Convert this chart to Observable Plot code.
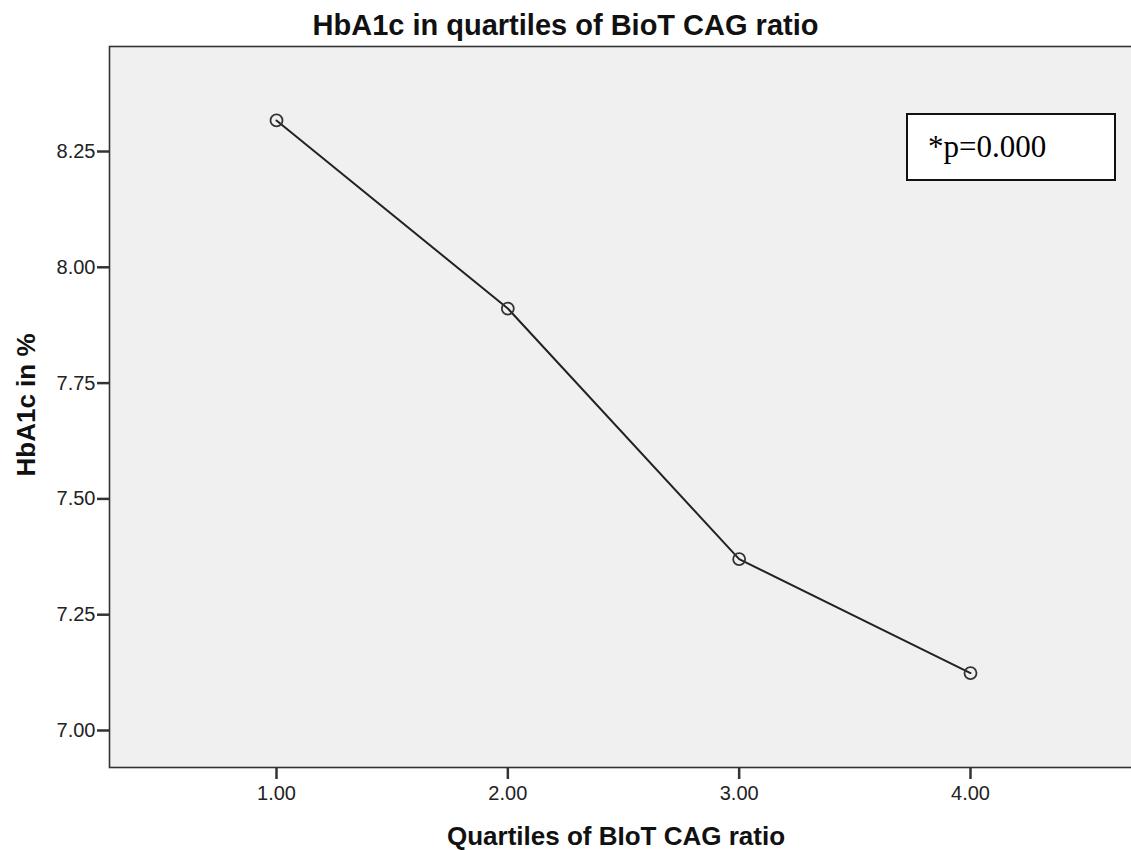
<!DOCTYPE html>
<html><head><meta charset="utf-8">
<script src="https://cdn.jsdelivr.net/npm/d3@7"></script>
<script src="https://cdn.jsdelivr.net/npm/@observablehq/plot@0.6"></script>
<style>
html,body{margin:0;padding:0;background:#fff;overflow:hidden;}
#wrap{position:relative;width:1131px;height:850px;overflow:hidden;font-family:"Liberation Sans",Arial,sans-serif;}
#chart{position:absolute;left:0;top:0;width:1160px;}
#chart svg{max-width:none !important;}
.title{position:absolute;left:0;top:11px;width:1131px;text-align:center;font-size:29px;line-height:29px;font-weight:bold;color:#111;}
.xlab{position:absolute;left:316px;top:823px;width:600px;text-align:center;font-size:26px;line-height:26px;font-weight:bold;color:#111;}
.ylab{position:absolute;left:-174px;top:392px;width:400px;height:26px;text-align:center;font-size:26px;line-height:26px;font-weight:bold;color:#111;transform:rotate(-90deg);}
.note{position:absolute;left:906px;top:113px;width:186px;height:64px;border:2px solid #111;background:#fff;font-family:"Liberation Serif","Times New Roman",serif;font-size:31px;line-height:64px;color:#000;padding-left:20px;box-sizing:content-box;}
</style></head><body>
<div id="wrap">
<div id="chart"></div>
<div class="title">HbA1c in quartiles of BioT CAG ratio</div>
<div class="xlab">Quartiles of BIoT CAG ratio</div>
<div class="ylab">HbA1c in %</div>
<div class="note">*p=0.000</div>
</div>
<script>
// Data
const quartiles = [1, 2, 3, 4];
const hba1c = [8.317, 7.911, 7.370, 7.124];
const xTicks = [1, 2, 3, 4];
const yTicks = [7.00, 7.25, 7.50, 7.75, 8.00, 8.25];
const noteText = "*p=0.000";

const data = quartiles.map((q, i) => ({q, v: hba1c[i]}));
const fmt = d3.format(".2f");

const chart = Plot.plot({
  width: 1160,
  height: 850,
  marginLeft: 109,
  marginRight: 10,
  marginTop: 46,
  marginBottom: 83,
  style: {fontFamily: "'Liberation Sans', Arial, sans-serif", color: "#222", background: "transparent", maxWidth: "none"},
  x: {domain: [0.2781, 4.7781]},
  y: {domain: [6.9201, 8.4767]},
  marks: [
    Plot.frame({fill: "#f0f0f0", stroke: null}),
    Plot.axisY({ticks: yTicks, tickSize: 12, tickPadding: 2, tickFormat: fmt, fontSize: 20, label: null, strokeWidth: 2.5, stroke: "#333"}),
    Plot.axisX({ticks: xTicks, tickSize: 12, tickPadding: 6, tickFormat: fmt, fontSize: 20, label: null, strokeWidth: 2.5, stroke: "#333"}),
    Plot.line(data, {x: "q", y: "v", stroke: "#222", strokeWidth: 2}),
    Plot.dot(data, {x: "q", y: "v", r: 6, stroke: "#333", strokeWidth: 1.8, fill: "none"}),
    Plot.frame({stroke: "#333", strokeWidth: 1.6, fill: "none"})
  ]
});
document.getElementById("chart").appendChild(chart);
document.querySelector(".note").textContent = noteText;
</script>
</body></html>
